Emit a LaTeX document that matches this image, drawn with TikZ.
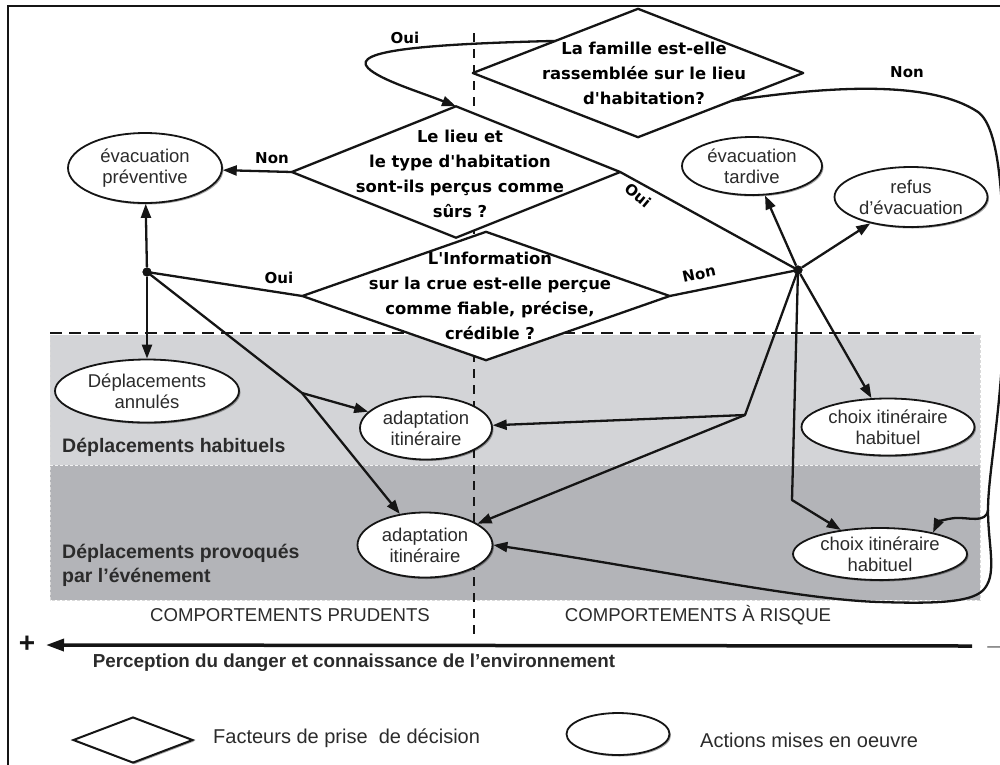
\documentclass[tikz,border=0pt]{standalone}
\usepackage{fontspec}
\setmainfont{Liberation Sans}
\newfontfamily\dfont{DejaVu Sans}
\usetikzlibrary{shapes.geometric,arrows.meta,shadows,calc}
\definecolor{txt}{HTML}{2B2B2B}
\definecolor{bandA}{HTML}{D3D4D7}
\definecolor{bandB}{HTML}{B3B4B8}
\definecolor{ink}{HTML}{151515}
\begin{document}
\begin{tikzpicture}[x=1pt,y=-1pt,
  conn/.style={draw=ink,line width=2.3pt,line join=round},
  arr/.style={conn,-{Triangle[length=14pt,width=10pt]}},
  dia/.style={diamond,fill=white,inner sep=0pt},
  dtext/.style={font=\dfont\bfseries\fontsize{16.4}{25}\selectfont,align=center,text=black,inner sep=0pt},
  lab/.style={font=\dfont\bfseries\fontsize{15}{18}\selectfont,text=black,inner sep=0pt},
  act/.style={ellipse,draw=ink,line width=1.8pt,fill=white,inner sep=0pt,align=center,text=txt,
    font=\fontsize{18.5}{21}\selectfont,
    drop shadow={shadow xshift=1.5pt,shadow yshift=-1.5pt,fill=black,opacity=0.35}},
  hub/.style={circle,fill=ink,inner sep=0pt,minimum size=9pt},
  bandlab/.style={font=\bfseries\fontsize{19.5}{24}\selectfont,text=txt,anchor=west,inner sep=0pt,align=left},
  side/.style={font=\fontsize{18.6}{22}\selectfont,text=txt,inner sep=0pt},
  legtext/.style={font=\fontsize{20}{24}\selectfont,text=txt,anchor=west,inner sep=0pt},
]
\useasboundingbox (0,0) rectangle (1000,764);
\clip (0,0) rectangle (1000,764);
% frame
\draw[line width=2.5pt,ink] (8,6) rectangle (1020,790);
% bands
\fill[bandA] (50,335) rectangle (980,465);
\fill[bandB] (50,465) rectangle (980,600);
\draw[white!70!bandA,dash pattern=on 3pt off 2pt,line width=1pt] (50,465) -- (980,465);
\draw[white!70!gray,dash pattern=on 3pt off 2pt,line width=0.8pt] (980,335) -- (980,600) -- (50,600) -- (50,335);
\draw[ink,line width=2.6pt,dash pattern=on 12pt off 7pt] (50,333) -- (980,333);
\draw[ink,line width=2.6pt,dash pattern=on 9pt off 7pt] (474,33) -- (474,636);
% diamonds: fills, then outlines
\node[dia,minimum width=330pt,minimum height=128pt] (d1) at (638,73) {};
\node[dia,minimum width=328pt,minimum height=131pt] (d2) at (456,172) {};
\node[dia,minimum width=367pt,minimum height=128pt] (d3) at (486,296) {};
\draw[conn] (d1.north) -- (d1.east) -- (d1.south) -- (d1.west) -- cycle;
\draw[conn] (d2.north) -- (d2.east) -- (d2.south) -- (d2.west) -- cycle;
\draw[conn] (d3.north) -- (d3.east) -- (d3.south) -- (d3.west) -- cycle;
\node[dtext] (t1) at (644,73) {La famille est-elle\\rassemblée sur le lieu\\d'habitation?};
\node[dtext] (t2) at (460,174) {Le lieu et\\le type d'habitation\\sont-ils perçus comme\\sûrs ?};
\node[dtext] (t3) at (490,296) {L'Information\\sur la crue est-elle perçue\\comme fiable, précise,\\crédible ?};
% actions
\node[act,minimum width=154pt,minimum height=70pt] (ep) at (145,168) {évacuation\\préventive};
\node[act,minimum width=184pt,minimum height=63pt] (da) at (147,391) {Déplacements\\annulés};
\node[act,minimum width=132pt,minimum height=63pt] (au) at (426,428) {adaptation\\itinéraire};
\node[act,minimum width=135pt,minimum height=65pt] (al) at (425,545) {adaptation\\itinéraire};
\node[act,minimum width=140pt,minimum height=58pt] (et) at (752,166) {évacuation\\tardive};
\node[act,minimum width=153pt,minimum height=60pt] (re) at (911,197) {refus\\d'évacuation};
\node[act,minimum width=173pt,minimum height=57pt] (cu) at (888,427) {choix itinéraire\\habituel};
\node[act,minimum width=174pt,minimum height=52pt] (cl) at (880,554) {choix itinéraire\\habituel};
% hubs and bends
\node[hub] (hL) at (147,272) {};
\node[hub] (hR) at (798,270) {};
\coordinate (bL) at (302,393);
\coordinate (bR) at (745,415);
\coordinate (bD) at (792,500);
\coordinate (nB) at (988,510);
% connectors
\draw[arr] (d1.north west) .. controls (430,44) and (350,50) .. (368,68) .. controls (380,80) and (420,92) .. (d2.north);
\draw[arr] (d2.west) -- (ep);
\draw[conn] (d2.east) -- (hR.center);
\draw[conn] (d3.west) -- (hL.center);
\draw[conn] (d3.east) -- (hR.center);
\draw[arr] (hL) -- (ep);
\draw[arr] (hL) -- (da);
\draw[arr] (hL.center) -- (bL) -- (al);
\draw[arr] (bL) -- (au);
\draw[arr] (hR) -- (et);
\draw[arr] (hR) -- (re);
\draw[arr] (hR) -- (cu);
\draw[arr] (hR.center) -- (bD) -- (cl);
\draw[arr] (hR.center) -- (bR) -- (au);
\draw[arr] (bR) -- (al);
\draw[arr] ($(d1.east)!0.43!(d1.south)$) .. controls (830,86) and (930,80) .. (978,112)
  .. controls (1000,128) and (1004,200) .. (1004,300)
  .. controls (1004,400) and (988,470) .. (nB)
  .. controls (988,545) and (997,572) .. (985,588)
  .. controls (975,602) and (940,604) .. (880,602)
  .. controls (800,600) and (650,568) .. (al.east);
\draw[arr] (nB) .. controls (986,524) and (968,517) .. (955,518) .. controls (945,519) and (938,522) .. (cl.22);
\node[hub] at (hL) {};
\node[hub] at (hR) {};
% labels
\node[lab] (l1) at (405,38) {Oui};
\node[lab] (l2) at (272,158) {Non};
\node[lab,rotate=-40] (l3) at (638,195) {Oui};
\node[lab] (l4) at (279,278) {Oui};
\node[lab,rotate=12] (l5) at (699,274) {Non};
\node[lab] (l6) at (907,72) {Non};
% band labels
\node[bandlab] (bh) at (62,447) {Déplacements habituels};
\node[bandlab] (bp) at (62,565) {Déplacements provoqués\\par l'événement};
\node[side] (cp) at (290,615) {COMPORTEMENTS PRUDENTS};
\node[side] (cr) at (698,615) {COMPORTEMENTS À RISQUE};
% axis
\coordinate (axR) at (972,646);
\coordinate (axL) at (46,645);
\draw[ink,line width=3.5pt,-{Triangle[length=18pt,width=12pt]}] (axR) -- (axL);
\node[font=\bfseries\fontsize{28}{28}\selectfont,text=ink,inner sep=0pt] (plus) at (27,644) {+};
\node[font=\fontsize{24}{24}\selectfont,text=gray,inner sep=0pt] (minus) at (994,650) {–};
\node[font=\bfseries\fontsize{18.8}{22}\selectfont,text=txt,inner sep=0pt] (axt) at (354,663) {Perception du danger et connaissance de l'environnement};
% legend
\node[diamond,draw=ink,line width=2pt,fill=white,inner sep=0pt,minimum width=120pt,minimum height=46pt,drop shadow={shadow xshift=1.5pt,shadow yshift=-1.5pt,fill=black,opacity=0.35}] (ld) at (133,740) {};
\node[legtext] (ldt) at (213,738) {Facteurs de prise\ \ de décision};
\node[act,minimum width=103pt,minimum height=42pt] (le) at (618,734) {};
\node[legtext] (lat) at (700,740) {Actions mises en oeuvre};
\end{tikzpicture}
\end{document}
